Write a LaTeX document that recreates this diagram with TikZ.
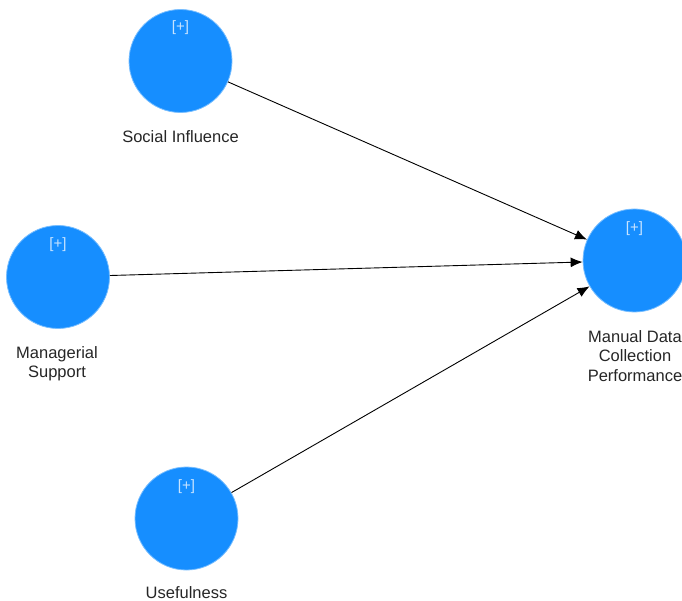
\documentclass[tikz,border=0pt]{standalone}
\usepackage{fontspec}
\setmainfont{Liberation Sans}
\usetikzlibrary{arrows.meta}
\definecolor{lvblue}{RGB}{22,142,255}
\definecolor{lvedge}{RGB}{120,190,255}
\definecolor{plusc}{RGB}{200,228,255}
\begin{document}
\begin{tikzpicture}[x=1pt,y=-1pt,
  latent/.style={circle,fill=lvblue,draw=lvedge,line width=0.8pt,minimum size=103pt,inner sep=0pt},
  plus/.style={font=\fontsize{15}{16}\selectfont,text=plusc},
  lbl/.style={font=\fontsize{16.5}{19.5}\selectfont,align=center,text=black!85},
  path/.style={-{Latex[length=12pt,width=10pt]},line width=0.9pt,black}]
\useasboundingbox (0,0) rectangle (682,601);
\node[latent] (si) at (180.5,61) {};
\node[latent] (ms) at (58,277) {};
\node[latent] (us) at (186.5,518.5) {};
\node[latent] (md) at (634.5,260.5) {};
\node[plus] (psi) at (180.5,28) {[+]};
\node[plus] (pms) at (58,245) {[+]};
\node[plus] (pus) at (186.5,487) {[+]};
\node[plus] (pmd) at (634.5,229) {[+]};
\node[lbl] (lsi) at (180.5,137) {Social Influence};
\node[lbl] (lms) at (57,363.5) {Managerial\\Support};
\node[lbl] (lus) at (186.5,593) {Usefulness};
\node[lbl] (lmd) at (635,356) {Manual Data\\Collection\\Performance};
\draw[path] (si) -- (md);
\draw[path] (ms) -- (md);
\draw[path] (us) -- (md);
\end{tikzpicture}
\end{document}
